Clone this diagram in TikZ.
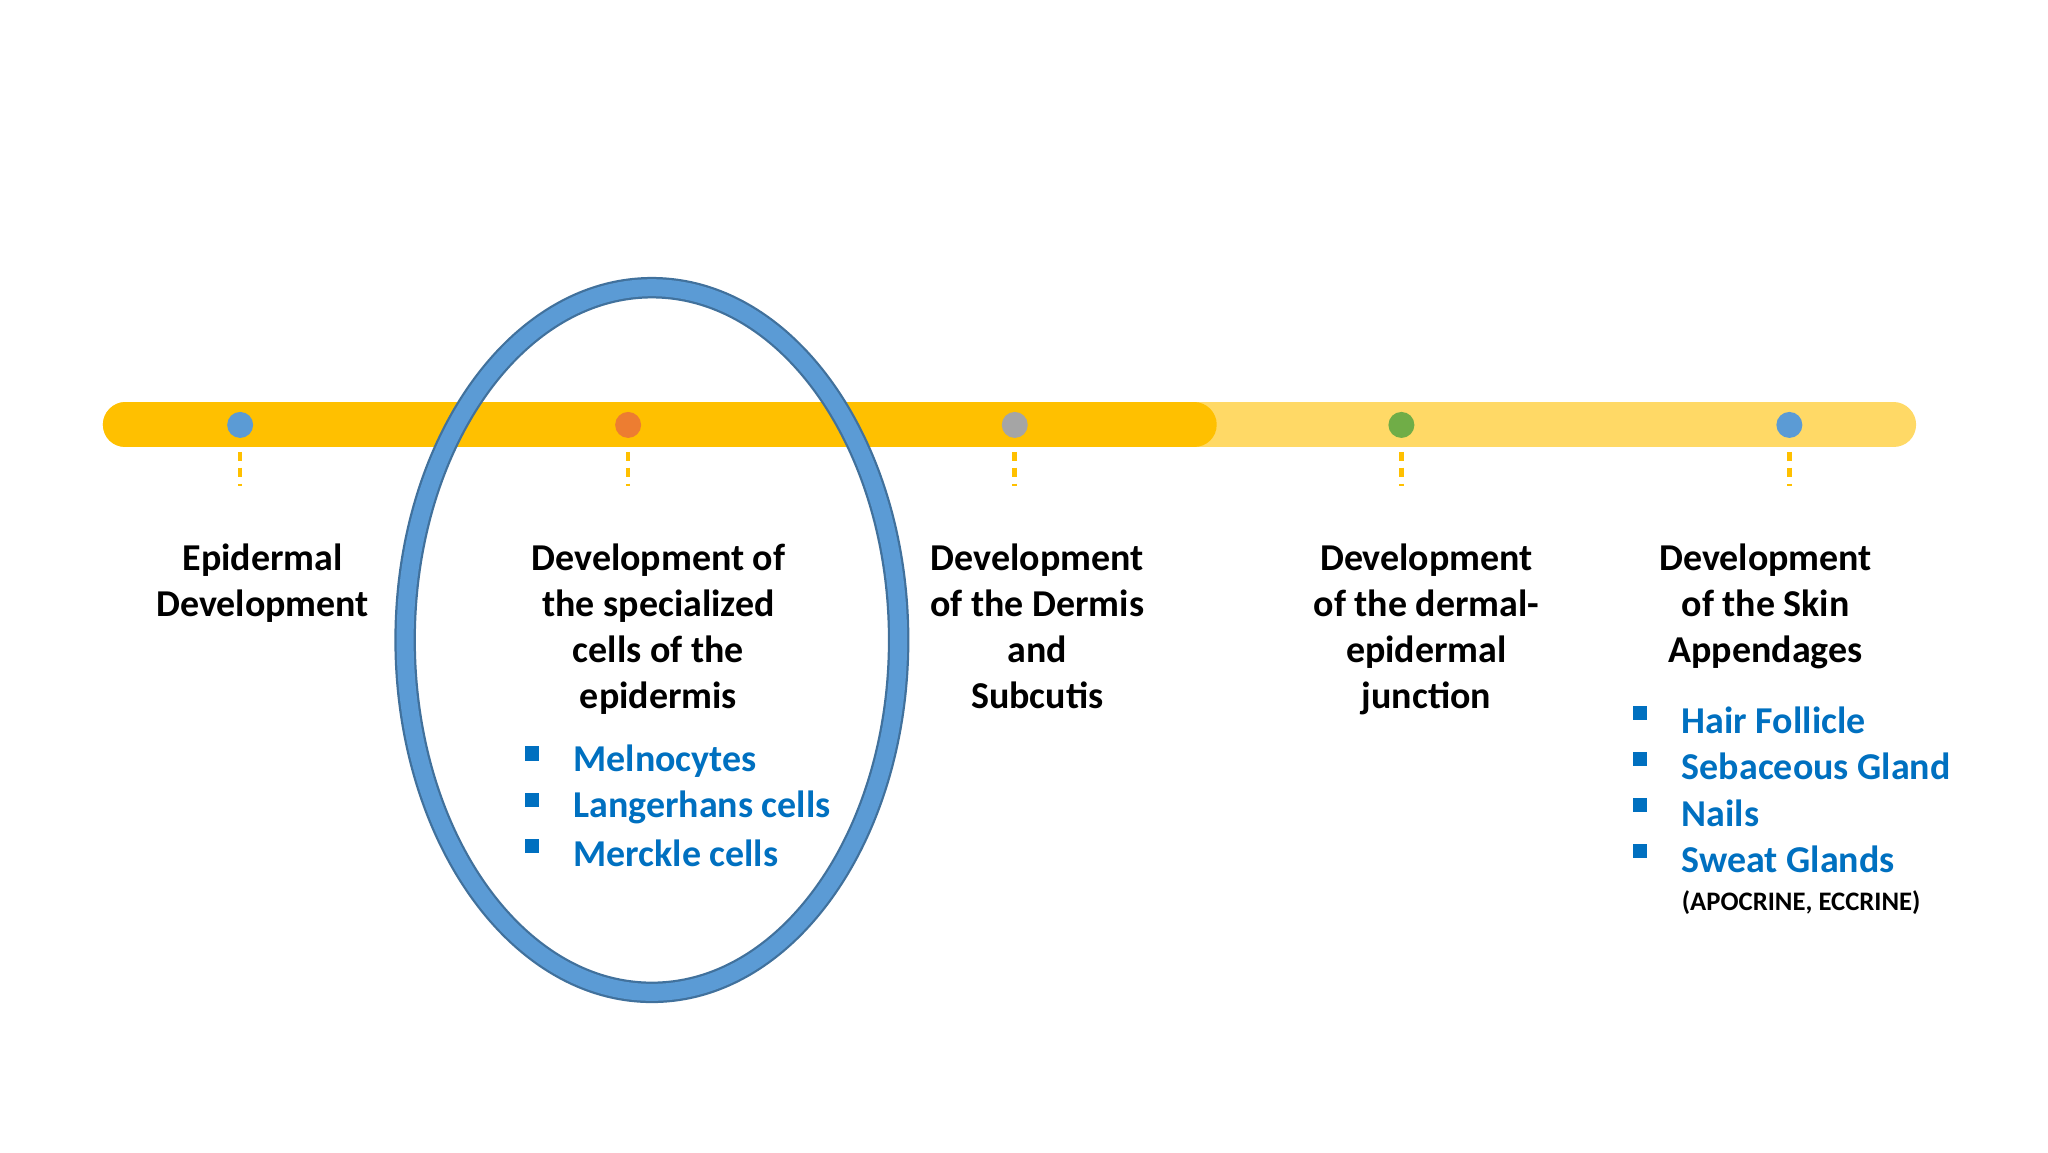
\documentclass[tikz,border=0pt]{standalone}
\usepackage{fontspec}
\setmainfont{Carlito}
\usetikzlibrary{positioning}
\definecolor{barDark}{HTML}{FFC000}
\definecolor{barLight}{HTML}{FFD966}
\definecolor{ringBlue}{HTML}{5B9BD5}
\definecolor{ringEdge}{HTML}{41719C}
\definecolor{itemBlue}{HTML}{0070C0}
\definecolor{dotOrange}{HTML}{ED7D31}
\definecolor{dotGray}{HTML}{A5A5A5}
\definecolor{dotGreen}{HTML}{70AD47}
\begin{document}
\begin{tikzpicture}[x=0.013196cm,y=-0.013196cm,
  lbl/.style={font=\fontsize{10.8}{13.1}\selectfont\bfseries, align=center, anchor=north},
  item/.style={font=\fontsize{10.8}{13.1}\selectfont\bfseries, text=itemBlue, anchor=west, inner sep=0pt},
  sq/.style={fill=itemBlue, minimum size=4pt, inner sep=0pt},
  dot/.style={circle, minimum size=0.26cm, inner sep=0pt},
  tick/.style={barDark, line width=1.3pt, dash pattern=on 2.5pt off 2pt}]
\useasboundingbox (0,0) rectangle (1552,873);
% timeline
\draw[barLight, line width=0.45cm, line cap=round] (95,322) -- (1435,322);
\draw[barDark, line width=0.45cm, line cap=round] (95,322) -- (905,322);
\node[dot, fill=ringBlue] (d1) at (182,322) {};
\node[dot, fill=dotOrange] (d2) at (476,322) {};
\node[dot, fill=dotGray] (d3) at (769,322) {};
\node[dot, fill=dotGreen] (d4) at (1062,322) {};
\node[dot, fill=ringBlue] (d5) at (1356,322) {};
\foreach \i in {1,...,5}
  \draw[tick] ([yshift=-0.27cm]d\i.center) -- ++(0,26);

% labels
\node[lbl] (l1) at (199,403) {Epidermal\\Development};
\node[lbl] (l2) at (499,403) {Development of\\the specialized\\cells of the\\epidermis};
\node[lbl] (l3) at (786,403) {Development\\of the Dermis\\and\\Subcutis};
\node[lbl] (l4) at (1081,403) {Development\\of the dermal-\\epidermal\\junction};
\node[lbl] (l5) at (1338,403) {Development\\of the Skin\\Appendages};

% lists
\foreach \t [count=\k] in {Melnocytes,Langerhans cells,Merckle cells} {
  \node[sq] (a\k) at (403,{536+35*\k}) {};
  \node[item] (ai\k) at (434,{542+35*\k}) {\t};
}
\foreach \t [count=\k] in {Hair Follicle,Sebaceous Gland,Nails,Sweat Glands} {
  \node[sq] (b\k) at (1243,{505+35*\k}) {};
  \node[item] (bi\k) at (1274,{511+35*\k}) {\t};
}
\node[item, text=black, font=\fontsize{7.6}{9}\selectfont\bfseries] (note) at (1274,684) {(APOCRINE, ECCRINE)};

% ring
\draw[ringEdge, line width=0.215cm] (494,485) ellipse (187 and 267);
\draw[ringBlue, line width=0.17cm] (494,485) ellipse (187 and 267);
\end{tikzpicture}
\end{document}
